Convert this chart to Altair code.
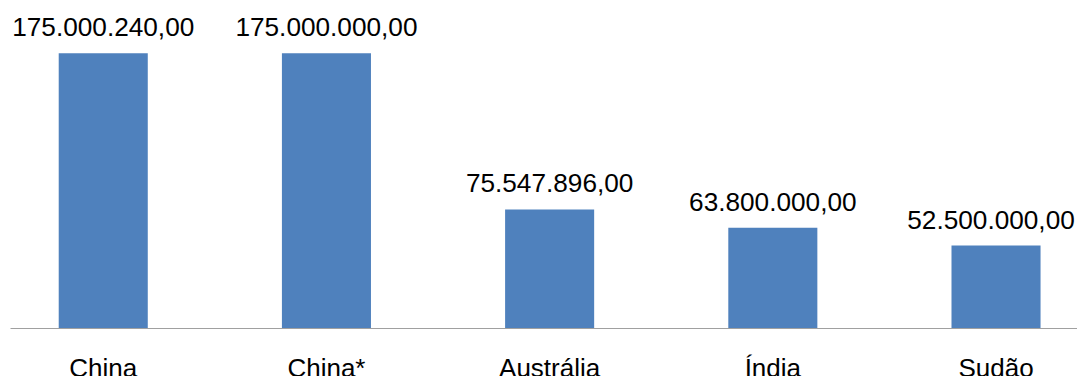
import altair as alt
import pandas as pd

countries = ["China", "China*", "Austrália", "Índia", "Sudão"]
values = [175000240, 175000000, 75547896, 63800000, 52500000]


def br_format(v):
    s = f"{v:,.2f}"
    return s.replace(",", "X").replace(".", ",").replace("X", ".")


labels = [br_format(v) for v in values]

df = pd.DataFrame({"pais": countries, "valor": values, "rotulo": labels})

FONT = "Liberation Sans"

x = alt.X(
    "pais:N",
    sort=countries,
    title=None,
    scale=alt.Scale(paddingInner=0.601, paddingOuter=0.1908, align=0.572),
    axis=alt.Axis(
        labelAngle=0,
        ticks=False,
        labelPadding=48,
        labelBaseline="alphabetic",
        labelFont=FONT,
        labelFontSize=26,
        labelColor="#000000",
        domainColor="#a0a0a0",
        domainWidth=1,
        grid=False,
    ),
)
y = alt.Y(
    "valor:Q",
    title=None,
    axis=None,
    scale=alt.Scale(domain=[0, 203.86e6], nice=False, zero=True),
)

last = countries[-1]

bars = alt.Chart(df).mark_bar(color="#4f81bd").encode(x=x, y=y)
text_main = (
    alt.Chart(df)
    .transform_filter(alt.datum.pais != last)
    .mark_text(
        baseline="alphabetic",
        dy=-17,
        font=FONT,
        fontSize=26.2,
        color="#000000",
    )
    .encode(x=x, y=y, text="rotulo:N")
)
text_last = (
    alt.Chart(df)
    .transform_filter(alt.datum.pais == last)
    .mark_text(
        baseline="alphabetic",
        dy=-17,
        dx=-5,
        font=FONT,
        fontSize=26.2,
        color="#000000",
    )
    .encode(x=x, y=y, text="rotulo:N")
)

chart = (
    alt.layer(bars, text_main, text_last)
    .properties(
        width=1067,
        height=320,
        autosize=alt.AutoSizeParams(type="none"),
        padding={"left": 2, "top": 0, "right": 0, "bottom": 48},
        background="white",
    )
    .configure_view(stroke=None)
)

chart.save("out.html", embed_options={"renderer": "svg", "actions": False})
